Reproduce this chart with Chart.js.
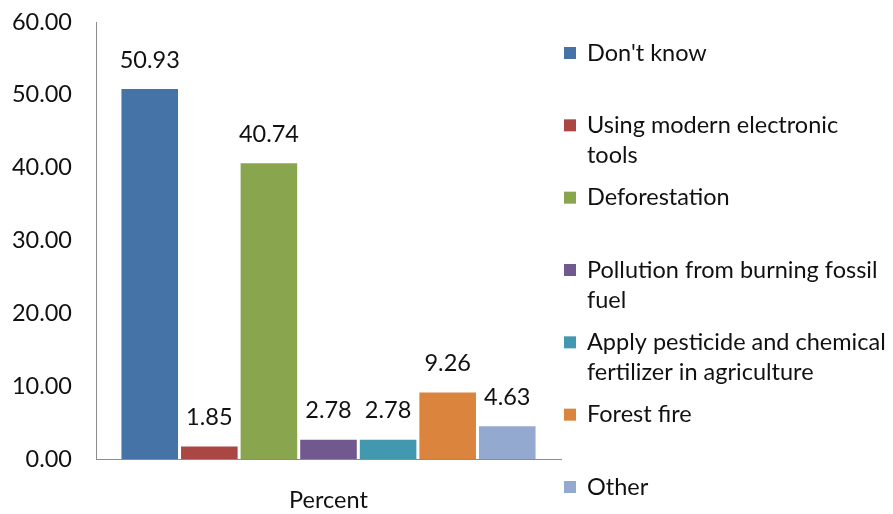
<!DOCTYPE html>
<html>
<head>
<meta charset="utf-8">
<script src="https://cdn.jsdelivr.net/npm/chart.js@4"></script>
<style>
  html, body { margin: 0; padding: 0; background: #fff; }
  #wrap { position: relative; width: 893px; height: 514px; }
</style>
</head>
<body>
<div id="wrap"><canvas id="barChart"></canvas></div>
<script>
// --- data ---
const categories = ['Percent'];
const seriesNames = [
    ["Don't know"],
    ['Using modern electronic', 'tools'],
    ['Deforestation'],
    ['Pollution from burning fossil', 'fuel'],
    ['Apply pesticide and chemical', 'fertilizer in agriculture'],
    ['Forest fire'],
    ['Other']
];
const seriesValues = [50.93, 1.85, 40.74, 2.78, 2.78, 9.26, 4.63];
const seriesColors = ['#4572A7', '#AA4643', '#89A54E', '#71588F', '#4198AF', '#DB843D', '#93A9CF'];
const yTicks = [0, 10, 20, 30, 40, 50, 60];

const FONT = 'Lato, "Open Sans", sans-serif';
const FONT_SIZE = 23.5;

// value labels above each bar
const valueLabels = {
    id: 'valueLabels',
    afterDatasetsDraw(chart) {
        const ctx = chart.ctx;
        ctx.save();
        ctx.font = FONT_SIZE + 'px ' + FONT;
        ctx.fillStyle = '#111';
        ctx.textAlign = 'center';
        ctx.textBaseline = 'middle';
        chart.data.datasets.forEach((ds, i) => {
            chart.getDatasetMeta(i).data.forEach((bar, j) => {
                ctx.fillText(ds.data[j].toFixed(2), bar.x, bar.y - 28);
            });
        });
        ctx.restore();
    }
};

// legend drawn on the right, one slot per series
const sideLegend = {
    id: 'sideLegend',
    afterDraw(chart) {
        const ctx = chart.ctx;
        const ds = chart.data.datasets;
        const top = 53, slot = (487 - 53) / (ds.length - 1);
        ctx.save();
        ctx.font = FONT_SIZE + 'px ' + FONT;
        ctx.textBaseline = 'middle';
        ds.forEach((d, i) => {
            const y = top + i * slot;
            ctx.fillStyle = d.backgroundColor;
            ctx.fillRect(564, y - 6, 12, 12);
            ctx.fillStyle = '#111';
            d.label.forEach((line, k) => ctx.fillText(line, 587, y + k * 30));
        });
        ctx.restore();
    }
};

const ctxBar = document.getElementById('barChart').getContext('2d');
new Chart(ctxBar, {
    type: 'bar',
    data: {
        labels: categories,
        datasets: seriesValues.map((v, i) => ({
            label: seriesNames[i],
            data: [v],
            backgroundColor: seriesColors[i],
            borderColor: '#ffffff',
            borderWidth: { top: 1, left: 1.5, right: 1.5, bottom: 0 },
            borderSkipped: false,
            categoryPercentage: 0.897,
            barPercentage: 1
        }))
    },
    options: {
        responsive: true,
        maintainAspectRatio: false,
        animation: false,
        layout: { padding: { top: 22, right: 332, left: 0, bottom: 0 } },
        scales: {
            y: {
                min: 0,
                max: 60,
                afterBuildTicks: function(axis) { axis.ticks = yTicks.map(v => ({ value: v })); },
                afterFit: function(axis) {
                    axis.width = 96;
                    axis.paddingTop = 0;
                    axis.paddingBottom = 0;
                },
                grid: { display: false, drawTicks: false },
                border: { display: true, color: '#8c8c8c', width: 1 },
                ticks: {
                    padding: 24,
                    color: '#111',
                    font: { family: FONT, size: FONT_SIZE },
                    callback: function(value) { return Number(value).toFixed(2); }
                }
            },
            x: {
                afterFit: function(axis) { axis.height = 55; },
                grid: { display: false, drawTicks: false },
                border: { display: true, color: '#8c8c8c', width: 1 },
                ticks: {
                    padding: 27,
                    color: '#111',
                    font: { family: FONT, size: FONT_SIZE }
                }
            }
        },
        plugins: {
            legend: { display: false },
            tooltip: { enabled: false }
        }
    },
    plugins: [valueLabels, sideLegend]
});
</script>
</body>
</html>
